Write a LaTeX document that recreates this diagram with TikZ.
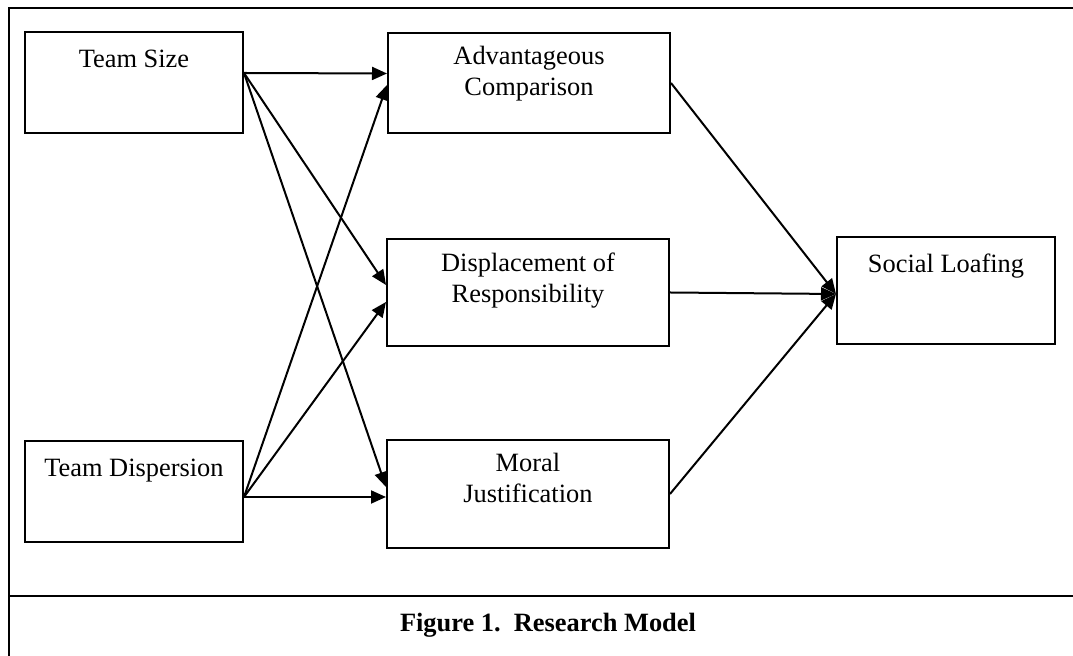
\documentclass[tikz,border=0pt]{standalone}
\usepackage{fontspec}
\setmainfont{Liberation Serif}
\usetikzlibrary{arrows.meta}

\begin{document}
\begin{tikzpicture}[x=0.5pt,y=-0.5pt,
    box/.style={draw,line width=1pt,inner sep=0pt},
    txt/.style={anchor=north,yshift=-7.1pt,align=center,inner sep=0pt,
      font=\fontsize{13.2}{15.5}\selectfont,execute at begin node=\strut},
    arr/.style={-{Triangle[length=7.5pt,width=6.5pt]},line width=1pt}]
    \useasboundingbox (0,0) rectangle (1073,656);
    % outer frame and caption rule
    \draw[line width=1.2pt] (1073,8)--(9,8)--(9,656);
    \draw[line width=1.2pt] (9,596)--(1073,596);
    % boxes
    \node[box,minimum width=109pt,minimum height=50.5pt,
      label={[txt]north:Team Size}] (ts) at (134,82.5) {};
    \node[box,minimum width=109pt,minimum height=50.5pt,
      label={[txt]north:Team Dispersion}] (td) at (134,491.5) {};
    \node[box,minimum width=141pt,minimum height=50pt,
      label={[txt]north:Advantageous\\Comparison}] (ac) at (529,83) {};
    \node[box,minimum width=141pt,minimum height=53.5pt,
      label={[txt]north:Displacement of\\Responsibility}] (dr) at (528,292.5) {};
    \node[box,minimum width=141pt,minimum height=54pt,
      label={[txt]north:Moral\\Justification}] (mj) at (528,494) {};
    \node[box,minimum width=109pt,minimum height=53.5pt,
      label={[txt]north:Social Loafing}] (sl) at (946,290.5) {};
    % arrows
    \draw[arr] ([yshift=4.75pt]ts.east)--([yshift=4.75pt]ac.west);
    \draw[arr] ([yshift=4.75pt]ts.east)--([yshift=3.75pt]dr.west);
    \draw[arr] ([yshift=4.75pt]ts.east)--([yshift=3.5pt]mj.west);
    \draw[arr] ([yshift=-2.75pt]td.east)--([yshift=-1pt]ac.west);
    \draw[arr] ([yshift=-2.75pt]td.east)--([yshift=-4.75pt]dr.west);
    \draw[arr] ([yshift=-2.75pt]td.east)--([yshift=-1.5pt]mj.west);
    \draw[arr] (ac.east)--([yshift=-1.75pt]sl.west);
    \draw[arr] (dr.east)--([yshift=-1.75pt]sl.west);
    \draw[arr] (mj.east)--([yshift=-1.75pt]sl.west);
    % caption
    \node[font=\bfseries\fontsize{13.2}{15.5}\selectfont] (cap) at (548,625)
      {Figure 1.\ \ Research Model};
\end{tikzpicture}
\end{document}
